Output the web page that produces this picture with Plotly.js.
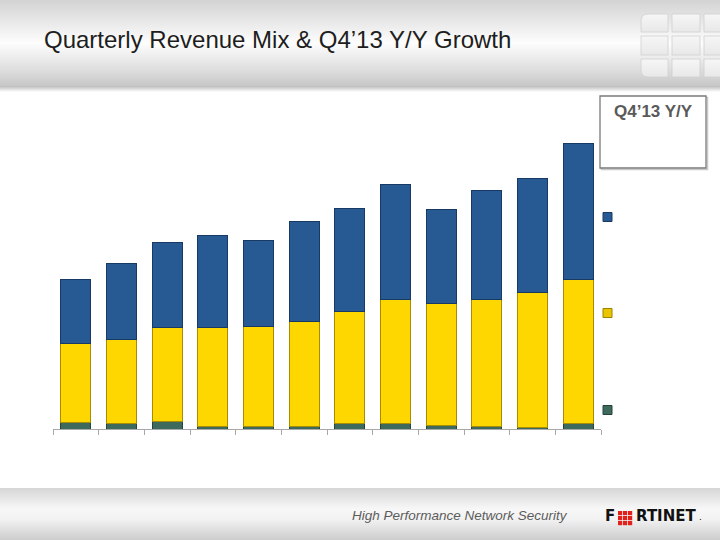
<!DOCTYPE html>
<html>
<head>
<meta charset="utf-8">
<script src="https://cdn.plot.ly/plotly-3.0.1.min.js"></script>
<style>
  html, body { margin: 0; padding: 0; background: #ffffff; }
  #chart { width: 720px; height: 540px; }
</style>
</head>
<body>
<div id="chart"></div>
<script>
// ---- data ($M) ----
const quarters = ["Q1'11","Q2'11","Q3'11","Q4'11","Q1'12","Q2'12","Q3'12","Q4'12","Q1'13","Q2'13","Q3'13","Q4'13"];
const otherRev   = [4.2, 3.6, 4.8, 1.8, 1.8, 1.8, 3.6, 3.6, 2.4, 1.8, 1.2, 3.6];
const servicesRev = [47.4, 50.4, 56.4, 59.4, 60.0, 63.0, 67.2, 74.4, 73.2, 76.2, 81.0, 86.4];
const productRev = [38.4, 45.6, 51.0, 55.2, 51.6, 60.0, 61.8, 69.0, 56.4, 65.4, 68.4, 81.6];
const seriesNames = ["Ratable & Other", "Services", "Product"];
const boxTitle = "Q4’13 Y/Y";
const slideTitle = "Quarterly Revenue Mix & Q4’13 Y/Y Growth";
const footerText = "High Performance Network Security";

// ---- page geometry helpers (plot area: x 53..601, y 100..429) ----
const L = 53, R = 601, T = 100, B = 429;
const W = R - L, H = B - T;
const X = p => (p - L) / W;
const Y = p => (B - p) / H;

function svgURI(svg) { return 'data:image/svg+xml;charset=utf-8,' + encodeURIComponent(svg); }

const headerSVG = `<svg xmlns="http://www.w3.org/2000/svg" width="720" height="92" viewBox="0 0 720 92" preserveAspectRatio="none">
<defs>
<linearGradient id="g" x1="0" y1="0" x2="0" y2="1">
<stop offset="0" stop-color="#d3d3d3"/>
<stop offset="0.5" stop-color="#fdfdfd"/>
<stop offset="0.85" stop-color="#dadada"/>
<stop offset="1" stop-color="#c6c6c6"/>
</linearGradient>
<linearGradient id="s" x1="0" y1="0" x2="0" y2="1">
<stop offset="0" stop-color="#bcbcbc"/>
<stop offset="1" stop-color="#ffffff"/>
</linearGradient>
<linearGradient id="t" x1="0" y1="0" x2="0" y2="1">
<stop offset="0" stop-color="#f6f6f6"/>
<stop offset="1" stop-color="#e8e8e8"/>
</linearGradient>
</defs>
<rect x="0" y="0" width="720" height="86" fill="url(#g)"/>
<rect x="0" y="86" width="720" height="6" fill="url(#s)"/>
<g fill="url(#t)" stroke="#d0d0d0" stroke-width="0.8">
<path d="M648 14 H668 V32 H641 V21 Q641 14 648 14 Z"/>
<rect x="672" y="14" width="28" height="18"/>
<rect x="704" y="14" width="20" height="18"/>
<rect x="641" y="36" width="27" height="19"/>
<rect x="672" y="36" width="28" height="19"/>
<rect x="704" y="36" width="20" height="19"/>
<path d="M641 59 H668 V77 H648 Q641 77 641 70 Z"/>
<rect x="672" y="59" width="28" height="18"/>
<rect x="704" y="59" width="20" height="18"/>
</g>
</svg>`;

const footerSVG = `<svg xmlns="http://www.w3.org/2000/svg" width="720" height="52" viewBox="0 0 720 52" preserveAspectRatio="none">
<defs>
<linearGradient id="f" x1="0" y1="0" x2="0" y2="1">
<stop offset="0" stop-color="#d6d6d6"/>
<stop offset="0.4" stop-color="#f7f7f7"/>
<stop offset="0.6" stop-color="#f2f2f2"/>
<stop offset="1" stop-color="#cdcdcd"/>
</linearGradient>
</defs>
<rect x="0" y="0" width="720" height="52" fill="url(#f)"/>
</svg>`;

const colors = { other: '#3e695d', services: '#fed600', product: '#275a93' };
const edges  = { other: '#24443b', services: '#a88d00', product: '#163a63' };

const traces = [
  { type: 'bar', name: seriesNames[0], x: quarters, y: otherRev,
    marker: { color: colors.other, line: { color: edges.other, width: 1 } } },
  { type: 'bar', name: seriesNames[1], x: quarters, y: servicesRev,
    marker: { color: colors.services, line: { color: edges.services, width: 1 } } },
  { type: 'bar', name: seriesNames[2], x: quarters, y: productRev,
    marker: { color: colors.product, line: { color: edges.product, width: 1 } } }
];

// legend-like markers on the right side
function sq(cy, fill, line) {
  return { type: 'rect', xref: 'paper', yref: 'paper',
    x0: X(603), x1: X(612), y0: Y(cy + 4.5), y1: Y(cy - 4.5),
    fillcolor: fill, line: { color: line, width: 1 } };
}

// FORTINET red grid "O"
const logoShapes = [];
const gx0 = 618, gy0 = 511, cell = 4.2, gap = 0.8;
for (let r = 0; r < 3; r++) {
  for (let c = 0; c < 3; c++) {
    const x0 = gx0 + c * (cell + gap), y0 = gy0 + r * (cell + gap);
    logoShapes.push({ type: 'rect', xref: 'paper', yref: 'paper',
      x0: X(x0), x1: X(x0 + cell), y0: Y(y0 + cell), y1: Y(y0),
      fillcolor: '#e3211b', line: { width: 0 } });
  }
}

const layout = {
  width: 720, height: 540,
  margin: { l: L, r: 720 - R, t: T, b: 540 - B, pad: 0 },
  paper_bgcolor: '#ffffff', plot_bgcolor: 'rgba(0,0,0,0)',
  showlegend: false,
  barmode: 'stack', bargap: 0.34,
  font: { family: 'Liberation Sans, Arial, sans-serif' },
  xaxis: {
    type: 'category', tickson: 'boundaries', ticks: 'outside', ticklen: 5,
    tickcolor: '#a8a8a8', tickwidth: 1, showline: true, linecolor: '#a8a8a8', linewidth: 1,
    showticklabels: false, showgrid: false, zeroline: false, fixedrange: true
  },
  yaxis: { visible: false, range: [0, H * 0.6], fixedrange: true },
  images: [
    { source: svgURI(headerSVG), xref: 'paper', yref: 'paper',
      x: X(0), y: Y(0), sizex: 720 / W, sizey: 92 / H,
      xanchor: 'left', yanchor: 'top', sizing: 'stretch', layer: 'below' },
    { source: svgURI(footerSVG), xref: 'paper', yref: 'paper',
      x: X(0), y: Y(488), sizex: 720 / W, sizey: 52 / H,
      xanchor: 'left', yanchor: 'top', sizing: 'stretch', layer: 'below' }
  ],
  shapes: [
    { type: 'rect', xref: 'paper', yref: 'paper', x0: X(601.5), x1: X(707.5), y0: Y(169.5), y1: Y(97.5),
      fillcolor: 'rgba(0,0,0,0)', line: { color: '#c8c8c8', width: 1.5 } },
    { type: 'rect', xref: 'paper', yref: 'paper', x0: X(600), x1: X(706), y0: Y(168), y1: Y(96),
      fillcolor: '#ffffff', line: { color: '#7a7a7a', width: 1.3 } },
    sq(217, colors.product, edges.product),
    sq(313, '#e9c500', '#9c8200'),
    sq(410, colors.other, edges.other),
    ...logoShapes
  ],
  annotations: [
    { text: slideTitle, xref: 'paper', yref: 'paper', x: X(42), y: Y(55), xanchor: 'left', yanchor: 'bottom',
      showarrow: false, font: { family: 'Liberation Sans, Arial, sans-serif', size: 24, color: '#1e1e1e' } },
    { text: '<b>' + boxTitle + '</b>', xref: 'paper', yref: 'paper', x: X(653), y: Y(111), xanchor: 'center', yanchor: 'middle',
      showarrow: false, font: { family: 'Liberation Sans, Arial, sans-serif', size: 17, color: '#5a5a5a' } },
    { text: '<i>' + footerText + '</i>', xref: 'paper', yref: 'paper', x: X(350), y: Y(515), xanchor: 'left', yanchor: 'middle',
      showarrow: false, font: { family: 'Liberation Sans, Arial, sans-serif', size: 13.5, color: '#5c5c5c' } },
    { text: '<b>F</b>', xref: 'paper', yref: 'paper', x: X(603), y: Y(516), xanchor: 'left', yanchor: 'middle',
      showarrow: false, font: { family: 'DejaVu Sans, sans-serif', size: 15, color: '#111111' } },
    { text: '<b>RTINET</b>', xref: 'paper', yref: 'paper', x: X(634), y: Y(516), xanchor: 'left', yanchor: 'middle',
      showarrow: false, font: { family: 'DejaVu Sans, sans-serif', size: 15, color: '#111111' } },
    { text: '.', xref: 'paper', yref: 'paper', x: X(697), y: Y(517), xanchor: 'left', yanchor: 'middle',
      showarrow: false, font: { family: 'DejaVu Sans, sans-serif', size: 9, color: '#111111' } }
  ]
};

Plotly.newPlot('chart', traces, layout, { displayModeBar: false, staticPlot: true });
</script>
</body>
</html>
